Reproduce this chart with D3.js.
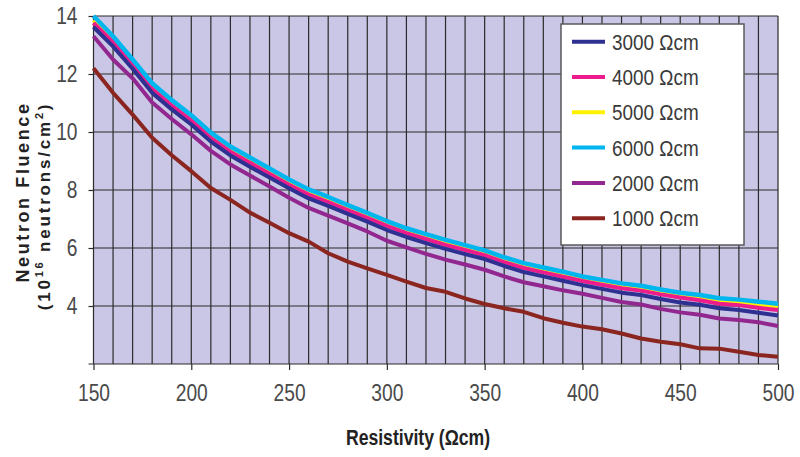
<!DOCTYPE html>
<html>
  <meta charset="utf-8">
  <head>
  <style>
    body { margin: 0; background: #fff; }
    text { font-family: "Liberation Sans", Arial, sans-serif; }
  </style>
  </head>
  <body>
    <div id="chart"></div>
    <script src="https://cdn.jsdelivr.net/npm/d3@7"></script>
    <script>
    'use strict';

    // resistivity of the starting material (Ωcm), one point every 10
    var resistivity = [150,160,170,180,190,200,210,220,230,240,250,260,270,280,290,300,310,320,
                       330,340,350,360,370,380,390,400,410,420,430,440,450,460,470,480,490,500];

    // neutron fluence, 10^16 n/cm2
    var f3000 = [13.62,12.95,12.18,11.35,10.78,10.26,9.67,9.19,8.80,8.43,8.06,7.71,7.45,7.18,6.91,6.62,6.38,6.17,
                 5.97,5.79,5.62,5.38,5.17,5.02,4.87,4.72,4.59,4.46,4.38,4.24,4.12,4.04,3.92,3.86,3.77,3.67];
    var f4000 = [13.76,13.10,12.31,11.49,10.92,10.40,9.80,9.32,8.94,8.56,8.18,7.84,7.58,7.31,7.04,6.76,6.51,6.31,
                 6.11,5.93,5.75,5.51,5.31,5.16,5.01,4.86,4.73,4.61,4.53,4.40,4.29,4.20,4.08,4.03,3.94,3.86];
    var f5000 = [13.86,13.18,12.39,11.57,11.00,10.48,9.88,9.40,9.02,8.64,8.26,7.92,7.66,7.39,7.12,6.84,6.59,6.39,
                 6.19,6.01,5.83,5.59,5.39,5.24,5.09,4.93,4.81,4.69,4.61,4.48,4.37,4.29,4.17,4.12,4.05,3.98];
    var f6000 = [14.00,13.30,12.50,11.68,11.10,10.58,9.98,9.50,9.12,8.74,8.36,8.02,7.76,7.48,7.21,6.93,6.68,6.48,
                 6.28,6.10,5.92,5.68,5.48,5.33,5.18,5.02,4.90,4.78,4.70,4.57,4.46,4.38,4.27,4.22,4.15,4.08];
    var f2000 = [13.30,12.50,11.85,11.02,10.45,9.92,9.35,8.88,8.50,8.12,7.73,7.38,7.12,6.85,6.57,6.25,6.02,5.80,
                 5.60,5.43,5.25,5.02,4.82,4.68,4.54,4.42,4.28,4.14,4.05,3.90,3.78,3.70,3.57,3.52,3.44,3.31];
    var f1000 = [12.20,11.35,10.60,9.80,9.20,8.65,8.07,7.66,7.22,6.87,6.51,6.22,5.82,5.53,5.30,5.07,4.84,4.62,
                 4.49,4.26,4.07,3.92,3.80,3.58,3.42,3.29,3.20,3.05,2.88,2.77,2.68,2.54,2.53,2.42,2.31,2.25];

    var seriesNames  = ['3000 Ωcm','4000 Ωcm','5000 Ωcm','6000 Ωcm','2000 Ωcm','1000 Ωcm'];
    var seriesValues = [f3000, f4000, f5000, f6000, f2000, f1000];
    var seriesColors = ['#2e3192','#ec1c8c','#fff200','#00b6ef','#92278f','#8b2520'];
    var drawOrder    = [2, 1, 3, 0, 4, 5];

    var xTicks = [150,200,250,300,350,400,450,500];
    var yTicks = [4,6,8,10,12,14];

    var W = 800, H = 457;
    var x = d3.scaleLinear().domain([150, 500]).range([93.5, 778]);
    var y = d3.scaleLinear().domain([2, 14]).range([364, 16]);

    var svg = d3.select('#chart').append('svg')
      .attr('width', W).attr('height', H)
      .style('display', 'block');

    svg.append('rect')
      .attr('x', x(150)).attr('y', y(14))
      .attr('width', x(500) - x(150)).attr('height', y(2) - y(14))
      .attr('fill', '#cac6e5');

    // grid
    var grid = svg.append('g').attr('stroke', '#2b2b2b').attr('stroke-width', 1.2);
    grid.selectAll('line.v').data(d3.range(150, 501, 10)).enter().append('line')
      .attr('class', 'v')
      .attr('x1', d => x(d)).attr('x2', d => x(d))
      .attr('y1', y(14)).attr('y2', y(2));
    grid.selectAll('line.h').data(yTicks).enter().append('line')
      .attr('class', 'h')
      .attr('x1', x(150)).attr('x2', x(500))
      .attr('y1', d => y(d)).attr('y2', d => y(d));
    grid.append('line')
      .attr('x1', x(150) - 5).attr('x2', x(500))
      .attr('y1', y(2)).attr('y2', y(2));

    // axes (labels are squeezed sideways to get the narrow face of the original)
    var xAxis = svg.append('g')
      .attr('transform', 'translate(0,' + y(2) + ')')
      .call(d3.axisBottom(x).tickValues(xTicks).tickSize(6).tickSizeOuter(0).tickPadding(14));
    var yAxis = svg.append('g')
      .attr('transform', 'translate(' + x(150) + ',0)')
      .call(d3.axisLeft(y).tickValues(yTicks).tickSize(5).tickSizeOuter(0).tickPadding(0));
    [xAxis, yAxis].forEach(function(a) {
      a.select('.domain').remove();
      a.selectAll('line').attr('stroke', '#2b2b2b').attr('stroke-width', 1.2);
      a.selectAll('text')
        .attr('fill', '#4a4a4a')
        .style('font-size', '24px');
    });
    xAxis.selectAll('text').attr('transform', 'scale(0.8,1)');
    yAxis.selectAll('text').attr('x', 0).attr('transform', 'translate(-16,0) scale(0.8,1)');

    // curves
    var line = d3.line()
      .x((d, i) => x(resistivity[i]))
      .y(d => y(d));
    svg.append('g').selectAll('path').data(drawOrder).enter().append('path')
      .attr('d', k => line(seriesValues[k]))
      .attr('fill', 'none')
      .attr('stroke', k => seriesColors[k])
      .attr('stroke-width', k => k === 3 ? 4.5 : 4)
      .attr('stroke-linejoin', 'round');

    // legend
    var lg = svg.append('g');
    lg.append('rect')
      .attr('x', 561).attr('y', 24).attr('width', 183).attr('height', 221)
      .attr('fill', '#fff').attr('stroke', '#5a5a5a').attr('stroke-width', 1.5);
    var item = lg.selectAll('g.item').data(seriesNames).enter().append('g')
      .attr('class', 'item')
      .attr('transform', (d, i) => 'translate(572,' + (41.7 + i * 35.3) + ')');
    item.append('line')
      .attr('x1', 0).attr('x2', 33).attr('y1', 0).attr('y2', 0)
      .attr('stroke', (d, i) => seriesColors[i]).attr('stroke-width', 4);
    item.append('text')
      .attr('dy', '0.36em')
      .attr('transform', 'translate(40,0) scale(0.86,1)')
      .attr('fill', '#3a3a3a')
      .style('font-size', '22px')
      .text(d => d);

    // axis titles
    svg.append('text')
      .attr('text-anchor', 'middle')
      .attr('transform', 'translate(418,445) scale(0.8,1)')
      .attr('fill', '#222')
      .style('font-size', '22px').style('font-weight', 'bold')
      .text('Resistivity (Ωcm)');

    var yt = svg.append('g')
      .attr('text-anchor', 'middle')
      .attr('fill', '#222')
      .style('font-weight', 'bold');
    yt.append('text')
      .attr('transform', 'translate(29,192) rotate(-90)')
      .style('font-size', '18px').style('letter-spacing', '2.6px')
      .text('Neutron Fluence');
    var t2 = yt.append('text')
      .attr('transform', 'translate(50,206) rotate(-90)')
      .style('font-size', '17px').style('letter-spacing', '2.8px');
    t2.append('tspan').text('(10');
    t2.append('tspan').attr('dy', -7).style('font-size', '11px').text('16');
    t2.append('tspan').attr('dy', 7).text(' neutrons/cm');
    t2.append('tspan').attr('dy', -7).style('font-size', '11px').text('2');
    t2.append('tspan').attr('dy', 7).text(')');
    </script>
  </body>
</html>
